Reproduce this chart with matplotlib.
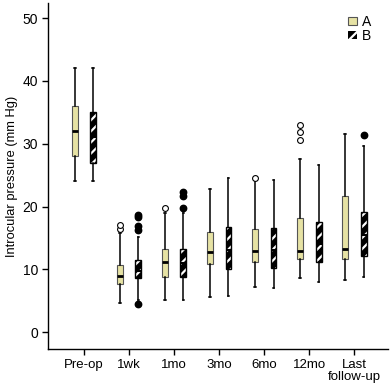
import matplotlib
matplotlib.use("Agg")
import matplotlib.pyplot as plt
from matplotlib.patches import Patch, PathPatch

plt.rcParams['font.family'] = ['Liberation Sans', 'DejaVu Sans']
plt.rcParams['hatch.linewidth'] = 1.6

groups = ['Pre-op', '1wk', '1mo', '3mo', '6mo', '12mo', 'Last\nfollow-up']

# group A (plain boxes)
a_lo = [24, 4.7, 5.1, 5.6, 7.2, 8.6, 8.3]
a_q1 = [28, 7.6, 8.8, 10.8, 11.2, 11.6, 11.6]
a_med = [32, 8.9, 11.2, 12.7, 12.9, 12.9, 13.2]
a_q3 = [36, 10.7, 13.2, 15.9, 16.4, 18.2, 21.6]
a_hi = [42, 15.7, 19.0, 22.8, 24.2, 27.6, 31.6]
a_out = [[], [16.4, 17.1], [19.7], [], [24.5], [30.6, 31.8, 33.0], []]

# group B (hatched boxes)
b_lo = [24, 5.1, 5.1, 5.8, 7.0, 7.9, 8.7]
b_q1 = [27, 8.6, 8.7, 10.0, 10.2, 11.1, 12.1]
b_med = [31, 9.8, 11.0, 13.0, 13.0, 14.0, 15.5]
b_q3 = [35, 11.4, 13.2, 16.7, 16.6, 17.6, 19.2]
b_hi = [42, 15.2, 18.9, 24.5, 24.2, 26.6, 29.7]
b_out = [[], [4.4, 16.3, 16.9, 18.3, 18.6], [19.7, 21.7, 22.3], [], [], [], [31.4]]

yellow = '#e6e2a4'


def make_stats(lo, q1, med, q3, hi, out):
    return [dict(whislo=lo[i], q1=q1[i], med=med[i], q3=q3[i], whishi=hi[i], fliers=out[i])
            for i in range(len(lo))]


fig = plt.figure(figsize=(3.92, 3.86), dpi=100)
ax = fig.add_axes([0.1224, 0.095, 0.868, 0.897])

pos = list(range(1, len(groups) + 1))
off = 0.205
bw = 0.13

line_kw = dict(color='black', linewidth=1.1)
ba = ax.bxp(make_stats(a_lo, a_q1, a_med, a_q3, a_hi, a_out),
            positions=[p - off for p in pos], widths=bw, patch_artist=True,
            capwidths=0.035,
            boxprops=dict(facecolor=yellow, edgecolor='#555555', linewidth=0.8),
            medianprops=dict(color='black', linewidth=2),
            whiskerprops=line_kw, capprops=line_kw,
            flierprops=dict(marker='o', markerfacecolor='white', markeredgecolor='black',
                            markersize=4.2, markeredgewidth=0.8),
            manage_ticks=False)

bb = ax.bxp(make_stats(b_lo, b_q1, b_med, b_q3, b_hi, b_out),
            positions=[p + off for p in pos], widths=bw, patch_artist=True,
            capwidths=0.035,
            boxprops=dict(facecolor='black', edgecolor='white', linewidth=0, hatch='///'),
            medianprops=dict(color='black', linewidth=1.5),
            whiskerprops=line_kw, capprops=line_kw,
            flierprops=dict(marker='o', markerfacecolor='black', markeredgecolor='black',
                            markersize=4.6),
            manage_ticks=False)
for box in bb['boxes']:
    ax.add_patch(PathPatch(box.get_path(), fill=False, edgecolor='black', linewidth=1.0, zorder=3))

ax.set_xlim(0.2, 7.75)
ax.set_ylim(-2.75, 52.4)
ax.set_xticks(pos)
ax.set_xticklabels(groups, fontsize=9.5, linespacing=1.0)
ax.set_yticks([0, 10, 20, 30, 40, 50])
ax.tick_params(axis='y', labelsize=10, length=4, width=1, pad=3)
ax.tick_params(axis='x', length=4, width=1, pad=3)
ax.set_ylabel('Introcular pressure (mm Hg)', fontsize=9.3, labelpad=3)

ax.spines['top'].set_visible(False)
ax.spines['right'].set_visible(False)
ax.spines['left'].set_linewidth(1)
ax.spines['bottom'].set_linewidth(1)

handles = [Patch(facecolor=yellow, edgecolor='#555555', linewidth=0.8, label='A'),
           Patch(facecolor='black', edgecolor='white', hatch='///', linewidth=0, label='B')]
ax.legend(handles=handles, loc='upper right', bbox_to_anchor=(0.975, 0.99), frameon=False,
          fontsize=10, handlelength=0.6, handleheight=0.6, handletextpad=0.4,
          labelspacing=0.0, borderaxespad=0.2)

fig.savefig('out.png', dpi=100)
